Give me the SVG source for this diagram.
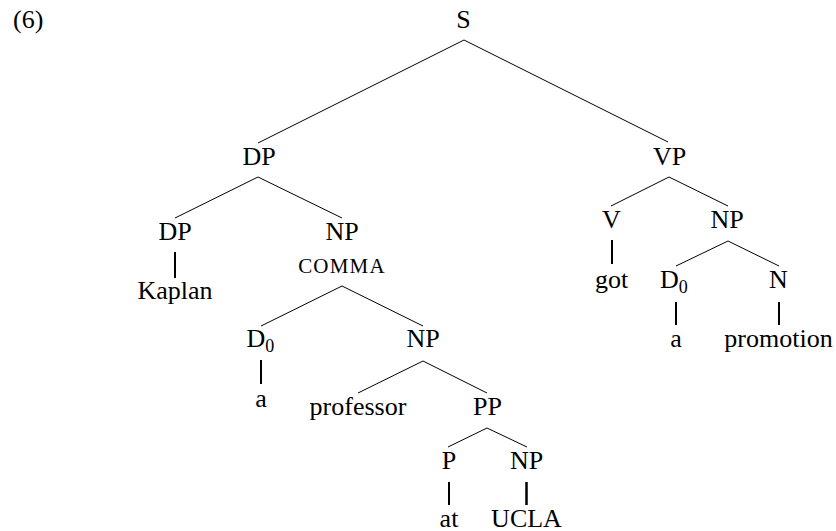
<svg xmlns="http://www.w3.org/2000/svg" width="836" height="531" viewBox="0 0 836 531" font-family="'Liberation Serif', 'Times New Roman', Tinos, 'DejaVu Serif', serif">
<style>
text{font-family:'Liberation Serif','Times New Roman',Tinos,'DejaVu Serif',serif;font-size:26px;fill:#000;text-anchor:middle}
.l{text-anchor:start}
.sc{font-size:21px;letter-spacing:1.2px}
.sub{font-size:18px}
line{stroke:#000;stroke-width:1}
.v{stroke-width:2}
</style>
<rect width="836" height="531" fill="#fff"/>
<text class="l" x="13" y="28">(6)</text>
<g id="connectors">
<line x1="464" y1="40" x2="258" y2="143"/>
<line x1="464" y1="40" x2="668" y2="142"/>
<line x1="258" y1="177" x2="175" y2="218"/>
<line x1="258" y1="177" x2="342" y2="218"/>
<line class="v" x1="175" y1="252" x2="175" y2="278"/>
<line x1="342" y1="286" x2="261" y2="326"/>
<line x1="342" y1="286" x2="423" y2="326"/>
<line class="v" x1="261" y1="360" x2="261" y2="384"/>
<line x1="423" y1="361" x2="358" y2="393"/>
<line x1="423" y1="361" x2="487" y2="393"/>
<line x1="487" y1="428" x2="448" y2="447"/>
<line x1="487" y1="428" x2="527" y2="447"/>
<line class="v" x1="449" y1="482" x2="449" y2="505"/>
<line class="v" x1="526.5" y1="482" x2="526.5" y2="505" style="stroke-width:2.5"/>
<line x1="669" y1="177" x2="611" y2="206"/>
<line x1="669" y1="177" x2="728" y2="206"/>
<line class="v" x1="612" y1="240" x2="612" y2="264"/>
<line x1="728" y1="241" x2="676" y2="266"/>
<line x1="728" y1="241" x2="779" y2="266"/>
<line class="v" x1="676" y1="302" x2="676" y2="325"/>
<line class="v" x1="779" y1="302" x2="779" y2="325"/>
</g>
<g id="S"><text x="463.5" y="28">S</text></g>
<g id="DP1"><text x="259" y="165">DP</text></g>
<g id="VP"><text x="669.5" y="165">VP</text></g>
<g id="DP2"><text x="175" y="240">DP</text></g>
<g id="Kaplan"><text x="175" y="299">Kaplan</text></g>
<g id="NP1"><text x="342" y="240">NP</text><text class="sc" x="342" y="272.5">COMMA</text></g>
<g id="D0a"><text class="l" x="246.5" y="347">D<tspan class="sub" dy="5">0</tspan></text></g>
<g id="a1"><text x="261" y="406.5">a</text></g>
<g id="NP2"><text x="423" y="347">NP</text></g>
<g id="professor"><text x="358" y="414.5">professor</text></g>
<g id="PP"><text x="487.5" y="414.5">PP</text></g>
<g id="P"><text x="449" y="469">P</text></g>
<g id="NP3"><text x="526.5" y="469">NP</text></g>
<g id="at"><text x="449" y="526.5">at</text></g>
<g id="UCLA"><text x="526.5" y="526.5">UCLA</text></g>
<g id="V"><text x="611.5" y="228">V</text></g>
<g id="NP4"><text x="727" y="228">NP</text></g>
<g id="got"><text x="611.5" y="288">got</text></g>
<g id="D0b"><text class="l" x="660" y="288">D<tspan class="sub" dy="5">0</tspan></text></g>
<g id="N"><text x="778.5" y="288">N</text></g>
<g id="a2"><text x="676" y="347">a</text></g>
<g id="promotion"><text x="778.5" y="347">promotion</text></g>
</svg>
